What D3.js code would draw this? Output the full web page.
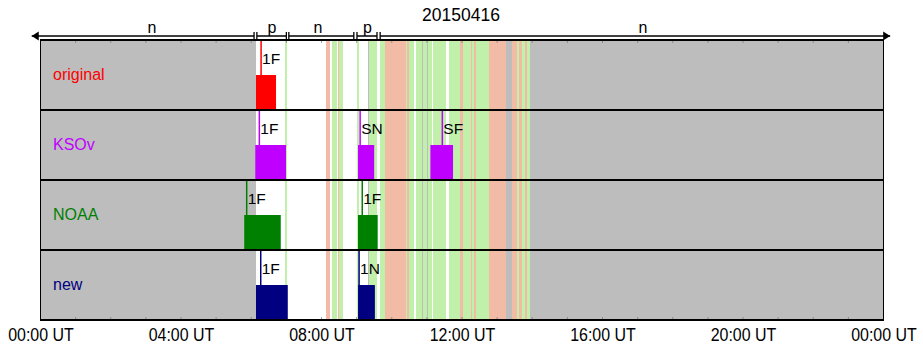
<!DOCTYPE html>
<html>
<head>
<meta charset="utf-8">
<script src="https://cdn.jsdelivr.net/npm/d3@7"></script>
<style>
  html, body { margin: 0; padding: 0; background: #fff; }
  svg { display: block; font-family: "Liberation Sans", Arial, sans-serif; }
</style>
</head>
<body>
<svg id="chart" width="923" height="350"></svg>
<script>
// Day shown: 2015-04-16, hours in UT
const title = "20150416";
const tickHours = [0, 4, 8, 12, 16, 20, 24];
const tickLabels = ["00:00 UT", "04:00 UT", "08:00 UT", "12:00 UT", "16:00 UT", "20:00 UT", "00:00 UT"];

// Catalog rows
const rows = ["original", "KSOv", "NOAA", "new"];
const rowColors = ["#ff0000", "#c000ff", "#008000", "#000080"];

// Event list (hours UT): row index, start, peak, end, class label
const eventRow   = [0, 1, 1, 1, 2, 2, 3, 3];
const eventStart = [6.135, 6.115, 9.04, 11.10, 5.80, 9.04, 6.135, 9.04];
const eventPeak  = [6.28, 6.23, 9.10, 11.44, 5.87, 9.16, 6.27, 9.07];
const eventEnd   = [6.705, 6.99, 9.50, 11.745, 6.84, 9.60, 7.04, 9.52];
const eventClass = ["1F", "1F", "SN", "SF", "1F", "1F", "1F", "1N"];

// Image-quality classification along the day: boundaries (hours) and class per interval
// g = no data, w = not flagged, G = good, P = poor
const bgEdges = [0, 6.135, 6.96, 7.02, 8.13, 8.24, 8.30, 8.44, 8.47, 8.50, 8.61, 9.01, 9.07,
  9.32, 9.35, 9.58, 9.66, 9.81, 10.41, 10.44, 10.49, 10.63, 10.69, 10.86, 10.89, 11.00,
  11.03, 11.15, 11.17, 11.54, 11.63, 11.94, 12.03, 12.26, 12.28, 12.34, 12.40, 12.77,
  13.25, 13.42, 13.57, 13.62, 13.71, 13.79, 13.85, 13.94, 24];
const bgClass = ["g", "w", "G", "w", "P", "w", "G", "w", "P", "G", "w", "G",
  "w", "g", "G", "w", "G", "P", "G", "P", "G", "w", "G", "g", "G",
  "g", "G", "w", "G", "w", "G", "P", "G", "P", "G", "P", "G",
  "P", "g", "P", "G", "P", "G", "P", "G", "g"];
const bgColors = { g: "#bdbdbd", w: "#ffffff", G: "#c1f0ab", P: "#f1bba6" };

// Period annotation along the top: start, end, label time (hours) and label
const periodStart = [-0.25, 6.16, 7.07, 9.01, 9.67];
const periodEnd   = [6.08, 7.00, 8.92, 9.58, 24.19];
const periodLabelAt = [3.17, 6.59, 7.90, 9.31, 17.15];
const periodLabel = ["n", "p", "n", "p", "n"];

const svg = d3.select("#chart");
const x = d3.scaleLinear().domain([0, 24]).range([40.5, 883.5]);
const y = d3.scaleBand().domain(rows).range([40, 320]);
const plotTop = 40, plotBottom = 320;

// Background classification stripes
const bg = svg.append("g").attr("shape-rendering", "crispEdges");
bgClass.forEach((c, i) => {
  bg.append("rect")
    .attr("x", x(bgEdges[i]))
    .attr("y", plotTop)
    .attr("width", x(bgEdges[i + 1]) - x(bgEdges[i]))
    .attr("height", plotBottom - plotTop)
    .attr("fill", bgColors[c]);
});

// Hourly minor ticks inside the frame
const minor = svg.append("g");
d3.range(1, 24).forEach(h => {
  minor.append("line").attr("x1", x(h)).attr("x2", x(h)).attr("y1", plotTop).attr("y2", plotTop + 3)
    .attr("stroke", "#777").attr("stroke-width", 0.7);
  minor.append("line").attr("x1", x(h)).attr("x2", x(h)).attr("y1", plotBottom - 3).attr("y2", plotBottom)
    .attr("stroke", "#777").attr("stroke-width", 0.7);
});

// Events: box in lower half of the row, stem from row top to the box at peak time
const ev = svg.append("g");
eventRow.forEach((r, i) => {
  const name = rows[r];
  const y0 = y(name), bh = y.bandwidth();
  const col = rowColors[r];
  ev.append("rect")
    .attr("x", x(eventStart[i]))
    .attr("y", y0 + bh / 2)
    .attr("width", x(eventEnd[i]) - x(eventStart[i]))
    .attr("height", bh / 2)
    .attr("fill", col);
  ev.append("line")
    .attr("x1", x(eventPeak[i])).attr("x2", x(eventPeak[i]))
    .attr("y1", y0).attr("y2", y0 + bh / 2)
    .attr("stroke", col).attr("stroke-width", 1.5);
  ev.append("text")
    .attr("x", x(eventPeak[i]) + 1)
    .attr("y", y0 + 23.5)
    .attr("font-size", 15.5)
    .attr("fill", "#000")
    .text(eventClass[i]);
});

// Row labels
rows.forEach((name, i) => {
  svg.append("text")
    .attr("x", 53)
    .attr("y", y(name) + y.bandwidth() / 2 + 5)
    .attr("font-size", 16)
    .attr("fill", rowColors[i])
    .text(name);
});

// Frame and row separators
const frame = svg.append("g").attr("shape-rendering", "crispEdges");
rows.slice(1).forEach(name => {
  frame.append("line").attr("x1", x(0)).attr("x2", x(24))
    .attr("y1", y(name)).attr("y2", y(name))
    .attr("stroke", "#000").attr("stroke-width", 1.3);
});
frame.append("rect")
  .attr("x", x(0)).attr("y", plotTop)
  .attr("width", x(24) - x(0)).attr("height", plotBottom - plotTop)
  .attr("fill", "none").attr("stroke", "#000").attr("stroke-width", 1.3);

// Bottom time axis (condensed labels)
const axis = svg.append("g")
  .attr("transform", `translate(0,${plotBottom})`)
  .call(d3.axisBottom(x).tickValues(tickHours).tickSize(0).tickPadding(8)
    .tickFormat((d, i) => tickLabels[i]));
axis.select(".domain").remove();
axis.selectAll("text")
  .attr("font-family", "'Liberation Sans', Arial, sans-serif")
  .attr("font-size", 19)
  .attr("transform", "scale(0.84,1)")
  .attr("fill", "#000");

// Title
svg.append("text")
  .attr("x", 461).attr("y", 21)
  .attr("text-anchor", "middle")
  .attr("font-size", 17.5)
  .text(title);

// Period annotation with arrows and end bars
const ann = svg.append("g");
const ay = 36;
periodLabel.forEach((lab, i) => {
  const xa = x(periodStart[i]), xb = x(periodEnd[i]);
  ann.append("line").attr("x1", xa).attr("x2", xb).attr("y1", ay).attr("y2", ay)
    .attr("stroke", "#000").attr("stroke-width", 1.5);
  if (i === 0) {
    ann.append("path").attr("d", `M${xa},${ay} l7,-4.5 l0,9 Z`).attr("fill", "#000");
  } else {
    ann.append("line").attr("x1", xa).attr("x2", xa).attr("y1", ay - 4).attr("y2", ay + 4)
      .attr("stroke", "#000").attr("stroke-width", 1.3);
  }
  if (i === periodLabel.length - 1) {
    ann.append("path").attr("d", `M${xb},${ay} l-7,-4.5 l0,9 Z`).attr("fill", "#000");
  } else {
    ann.append("line").attr("x1", xb).attr("x2", xb).attr("y1", ay - 4).attr("y2", ay + 4)
      .attr("stroke", "#000").attr("stroke-width", 1.3);
  }
  ann.append("text")
    .attr("x", x(periodLabelAt[i]))
    .attr("y", ay - 3)
    .attr("text-anchor", "middle")
    .attr("font-size", 16)
    .text(lab);
});
</script>
</body>
</html>
